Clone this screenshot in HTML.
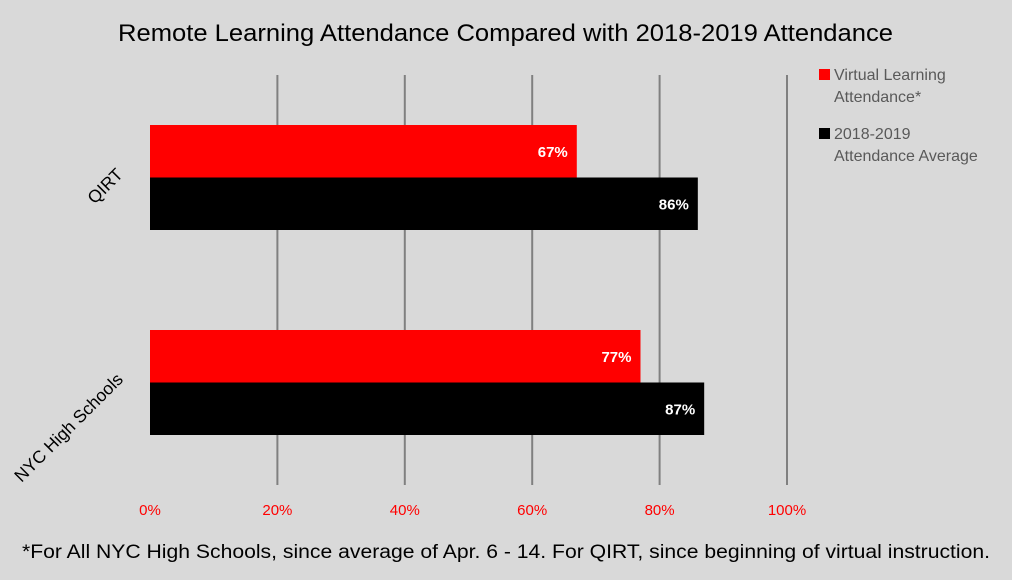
<!DOCTYPE html>
<html><head><meta charset="utf-8"><style>
body{margin:0;background:#d9d9d9;}
svg{display:block;font-family:"Liberation Sans",sans-serif;}
</style></head><body>
<svg id="c" width="1012" height="580" viewBox="0 0 1012 580">
<rect width="1012" height="580" fill="#d9d9d9"/>
<text x="118" y="41" font-size="24" textLength="775" lengthAdjust="spacingAndGlyphs" fill="#000">Remote Learning Attendance Compared with 2018-2019 Attendance</text>
<g id="grid"></g><g id="bars"></g><g id="labels"></g>
<g>
<rect x="819" y="69" width="11" height="11" fill="#ff0000"/>
<text x="834" y="80" font-size="16" fill="#595959">Virtual Learning</text>
<text x="834" y="102" font-size="16" fill="#595959">Attendance*</text>
<rect x="819" y="128" width="11" height="11" fill="#000"/>
<text x="834" y="139" font-size="16" fill="#595959">2018-2019</text>
<text x="834" y="161" font-size="16" fill="#595959">Attendance Average</text>
</g>
<text x="22" y="558" font-size="19" textLength="968" lengthAdjust="spacingAndGlyphs" fill="#000">*For All NYC High Schools, since average of Apr. 6 - 14. For QIRT, since beginning of virtual instruction.</text>
</svg>
<script>
const categories=["QIRT","NYC High Schools"];
const virtualVals=[67,77];
const averageVals=[86,87];
const ticks=[0,20,40,60,80,100];
const NS="http://www.w3.org/2000/svg";
const x=v=>150+v*6.37;
const groupTop=[125,330];
function mk(t,a,p){const e=document.createElementNS(NS,t);for(const k in a)e.setAttribute(k,a[k]);p.appendChild(e);return e;}
const grid=document.getElementById('grid'),bars=document.getElementById('bars'),labels=document.getElementById('labels');
ticks.forEach(t=>{
 if(t>0){const l=mk('line',{x1:x(t),x2:x(t),y1:75,y2:485,stroke:'#808080','stroke-width':2},grid);
 
 }
 const tx=mk('text',{x:x(t),y:515,'text-anchor':'middle','font-size':15,fill:'#ff0000'},labels);
 tx.textContent=t+'%';
 
 
});
categories.forEach((c,i)=>{
 const top=groupTop[i];
 [[virtualVals[i],'#ff0000','virtual'],[averageVals[i],'#000','average']].forEach(([v,col,n],j)=>{
  const y=top+j*52.5;
  const r=mk('rect',{x:150,y:y,width:x(v)-150,height:52.5,fill:col},bars);
  
  
  const t=mk('text',{x:x(v)-9,y:y+32,'text-anchor':'end','font-size':15,'font-weight':'bold',fill:'#fff'},labels);
  t.textContent=v+'%';
  
  
 });
 const cy=top+52.5;
 const ct=mk('text',{x:0,y:0,'text-anchor':'end','font-size':17.5,fill:'#000',transform:`translate(124,${cy-2}) rotate(-45)`},labels);
 ct.textContent=c;
 
 
});
</script>
</body></html>
